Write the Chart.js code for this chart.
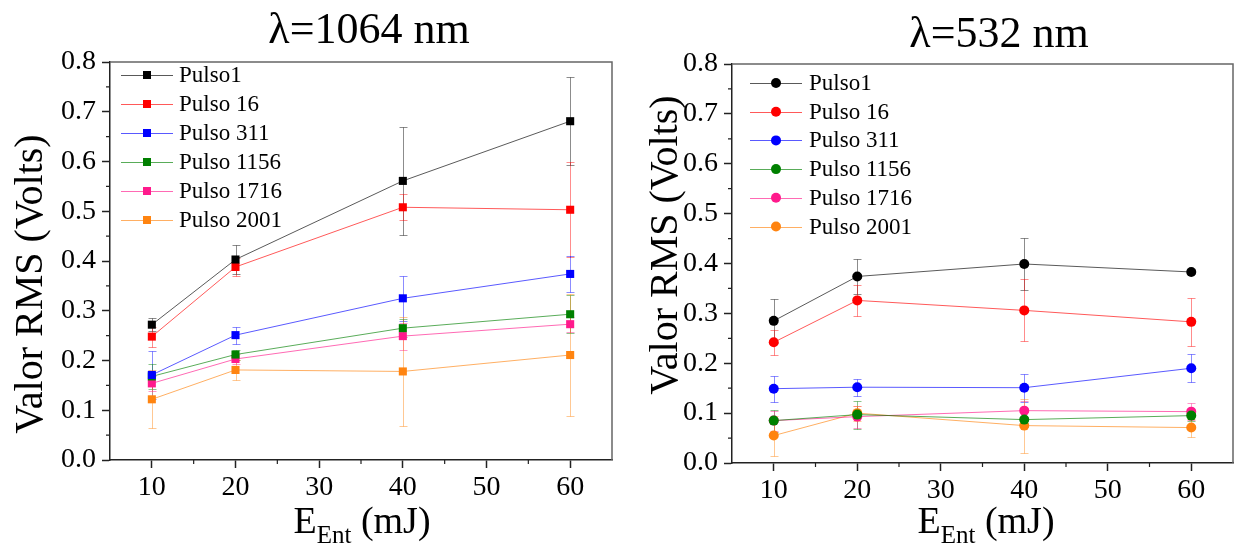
<!DOCTYPE html>
<html>
<head>
<meta charset="utf-8">
<script src="https://cdn.jsdelivr.net/npm/chart.js@4.4.1/dist/chart.umd.min.js"></script>
<style>
  html, body { margin: 0; padding: 0; background: #fff; }
  #wrap { position: relative; width: 1238px; height: 548px; }
  canvas { position: absolute; top: 0; }
  #c1064 { left: 0; }
  #c532 { left: 620px; }
</style>
</head>
<body>
<div id="wrap">
  <canvas id="c1064" width="620" height="548"></canvas>
  <canvas id="c532" width="618" height="548"></canvas>
</div>
<script>
// ---------- data ----------
const energies = [10, 20, 40, 60];
const seriesNames = ["Pulso1", "Pulso 16", "Pulso 311", "Pulso 1156", "Pulso 1716", "Pulso 2001"];

// lambda = 1064 nm
const p1_1064    = [0.272, 0.403, 0.561, 0.681];
const p16_1064   = [0.248, 0.388, 0.508, 0.503];
const p311_1064  = [0.171, 0.251, 0.325, 0.374];
const p1156_1064 = [0.168, 0.212, 0.265, 0.293];
const p1716_1064 = [0.154, 0.203, 0.249, 0.273];
const p2001_1064 = [0.122, 0.181, 0.178, 0.211];

const e1_1064    = [0.013, 0.030, 0.108, 0.088];
const e16_1064   = [0.020, 0.018, 0.026, 0.095];
const e311_1064  = [0.048, 0.017, 0.045, 0.036];
const e1156_1064 = [0.025, 0.010, 0.018, 0.038];
const e1716_1064 = [0.015, 0.010, 0.027, 0.015];
const e2001_1064 = [0.058, 0.020, 0.110, 0.123];

// lambda = 532 nm
const p1_532    = [0.285, 0.374, 0.399, 0.383];
const p16_532   = [0.242, 0.326, 0.306, 0.283];
const p311_532  = [0.149, 0.152, 0.151, 0.190];
const p1156_532 = [0.085, 0.097, 0.087, 0.095];
const p1716_532 = [0.085, 0.093, 0.105, 0.103];
const p2001_532 = [0.055, 0.100, 0.075, 0.071];

const e1_532    = [0.044, 0.035, 0.052, 0.005];
const e16_532   = [0.025, 0.031, 0.062, 0.048];
const e311_532  = [0.026, 0.017, 0.028, 0.028];
const e1156_532 = [0.022, 0.028, 0.015, 0.010];
const e1716_532 = [0.020, 0.022, 0.020, 0.017];
const e2001_532 = [0.040, 0.015, 0.054, 0.018];

const xTicks = [10, 20, 30, 40, 50, 60];
const xMinorTicks = [15, 25, 35, 45, 55];
const yTicks = [0.0, 0.1, 0.2, 0.3, 0.4, 0.5, 0.6, 0.7, 0.8];
const yMinorTicks = [0.05, 0.15, 0.25, 0.35, 0.45, 0.55, 0.65, 0.75];

const yTitle = "Valor RMS (Volts)";
const colors = ["#000000", "#ff0000", "#0000ff", "#008000", "#ff1a8c", "#ff8410"];
const serif = '"Liberation Serif", "Times New Roman", serif';

function fade(hex, a) {
  const n = parseInt(hex.slice(1), 16);
  return `rgba(${n >> 16}, ${(n >> 8) & 255}, ${n & 255}, ${a})`;
}

// ---------- plugins ----------
const errorBars = {
  id: "errorBars",
  beforeDatasetsDraw(chart) {
    const { ctx, scales: { x, y } } = chart;
    chart.data.datasets.forEach(ds => {
      ctx.save();
      ctx.strokeStyle = ds.errorColor;
      ctx.lineWidth = 1;
      ds.data.forEach((p, j) => {
        const e = ds.errors[j];
        const px = Math.round(x.getPixelForValue(p.x)) + 0.5;
        const top = Math.round(y.getPixelForValue(p.y + e)) + 0.5;
        const bot = Math.round(y.getPixelForValue(p.y - e)) + 0.5;
        ctx.beginPath();
        ctx.moveTo(px, top); ctx.lineTo(px, bot);
        ctx.moveTo(px - 4, top); ctx.lineTo(px + 4, top);
        ctx.moveTo(px - 4, bot); ctx.lineTo(px + 4, bot);
        ctx.stroke();
      });
      ctx.restore();
    });
  }
};

const frame = {
  id: "frame",
  afterDraw(chart) {
    const { ctx, chartArea: a, scales: { x, y } } = chart;
    ctx.save();
    ctx.strokeStyle = "#666";
    ctx.lineWidth = 1.5;
    ctx.beginPath();
    ctx.moveTo(a.left, a.top); ctx.lineTo(a.right, a.top); ctx.lineTo(a.right, a.bottom);
    ctx.stroke();
    // minor ticks
    ctx.strokeStyle = "#222";
    ctx.lineWidth = 1.2;
    ctx.beginPath();
    xMinorTicks.forEach(v => {
      const px = x.getPixelForValue(v);
      ctx.moveTo(px, a.bottom); ctx.lineTo(px, a.bottom + 4);
    });
    yMinorTicks.forEach(v => {
      const py = y.getPixelForValue(v);
      ctx.moveTo(a.left, py); ctx.lineTo(a.left - 4, py);
    });
    ctx.stroke();
    ctx.restore();
  }
};

const inLegend = {
  id: "inLegend",
  afterDatasetsDraw(chart, args, o) {
    const { ctx, chartArea: a } = chart;
    ctx.save();
    ctx.font = `23px ${serif}`;
    ctx.textBaseline = "middle";
    ctx.textAlign = "left";
    chart.data.datasets.forEach((ds, i) => {
      const yy = a.top + o.dy + i * o.rowH;
      ctx.strokeStyle = ds.borderColor;
      ctx.lineWidth = 1;
      ctx.beginPath();
      ctx.moveTo(a.left + o.lineX0, Math.round(yy) + 0.5);
      ctx.lineTo(a.left + o.lineX1, Math.round(yy) + 0.5);
      ctx.stroke();
      ctx.fillStyle = ds.pointBackgroundColor;
      const mx = a.left + o.markX;
      if (ds.pointStyle === "rect") {
        ctx.fillRect(mx - 4, yy - 4, 8, 8);
      } else {
        ctx.beginPath();
        ctx.arc(mx, yy, 5, 0, Math.PI * 2);
        ctx.fill();
      }
      ctx.fillStyle = "#000";
      ctx.fillText(ds.label, a.left + o.textX, yy + 1);
    });
    ctx.restore();
  }
};

const panelText = {
  id: "panelText",
  afterDraw(chart, args, o) {
    const { ctx } = chart;
    ctx.save();
    ctx.fillStyle = "#000";
    ctx.textAlign = "center";
    ctx.textBaseline = "alphabetic";
    ctx.font = `44px ${serif}`;
    ctx.fillText(o.title, o.titleX, o.titleY);

    ctx.save();
    ctx.translate(o.yTitleX, o.yTitleY);
    ctx.rotate(-Math.PI / 2);
    ctx.textBaseline = "middle";
    ctx.font = `40px ${serif}`;
    ctx.fillText(yTitle, 0, 0);
    ctx.restore();

    const big = `38px ${serif}`, small = `25px ${serif}`;
    ctx.font = big;
    const wE = ctx.measureText("E").width, wR = ctx.measureText(" (mJ)").width;
    ctx.font = small;
    const wS = ctx.measureText("Ent").width;
    let x = o.xTitleX - (wE + wS + wR) / 2;
    ctx.textAlign = "left";
    ctx.font = big; ctx.fillText("E", x, o.xTitleY); x += wE;
    ctx.font = small; ctx.fillText("Ent", x, o.xTitleY + 10); x += wS;
    ctx.font = big; ctx.fillText(" (mJ)", x, o.xTitleY);
    ctx.restore();
  }
};

// ---------- panels ----------
function makePanel(id, values, errors, marker, area, text, legend) {
  const canvas = document.getElementById(id);
  const H = canvas.height, W = canvas.width;
  const tickFont = { family: serif, size: 28 };

  const datasets = values.map((vals, i) => ({
    label: seriesNames[i],
    data: energies.map((e, j) => ({ x: e, y: vals[j] })),
    errors: errors[i],
    errorColor: fade(colors[i], 0.45),
    borderColor: fade(colors[i], 0.65),
    borderWidth: 1,
    pointStyle: marker,
    pointRadius: marker === "rect" ? 5.7 : 5,
    pointBackgroundColor: colors[i],
    pointBorderColor: colors[i],
    pointBorderWidth: 0,
    tension: 0
  }));

  return new Chart(canvas, {
    type: "line",
    data: { datasets },
    plugins: [errorBars, frame, inLegend, panelText],
    options: {
      responsive: false,
      animation: false,
      layout: { padding: { top: area.top, right: W - area.right, left: 0, bottom: 0 } },
      plugins: {
        legend: { display: false },
        tooltip: { enabled: false },
        inLegend: legend,
        panelText: text
      },
      scales: {
        x: {
          type: "linear", min: 5, max: 65,
          afterBuildTicks: s => { s.ticks = xTicks.map(v => ({ value: v })); },
          afterFit: s => { s.height = H - area.bottom; },
          ticks: { font: tickFont, color: "#000", padding: 3, maxRotation: 0, autoSkip: false },
          grid: { drawOnChartArea: false, tickLength: 8, tickColor: "#222", tickWidth: 1.5 },
          border: { color: "#222", width: 1.5 }
        },
        y: {
          min: 0, max: 0.8,
          afterBuildTicks: s => { s.ticks = yTicks.map(v => ({ value: v })); },
          afterFit: s => { s.width = area.left; },
          ticks: { font: tickFont, color: "#000", padding: 6, autoSkip: false,
                   callback: v => v.toFixed(1) },
          grid: { drawOnChartArea: false, tickLength: 8, tickColor: "#222", tickWidth: 1.5 },
          border: { color: "#222", width: 1.5 }
        }
      }
    }
  });
}

makePanel("c1064",
  [p1_1064, p16_1064, p311_1064, p1156_1064, p1716_1064, p2001_1064],
  [e1_1064, e16_1064, e311_1064, e1156_1064, e1716_1064, e2001_1064],
  "rect",
  { left: 110, right: 612, top: 62, bottom: 460 },
  { title: "λ=1064 nm", titleX: 369, titleY: 43, yTitleX: 31, yTitleY: 284, xTitleX: 362, xTitleY: 533 },
  { dy: 13, rowH: 29, lineX0: 11, lineX1: 63, markX: 37, textX: 69 });

makePanel("c532",
  [p1_532, p16_532, p311_532, p1156_532, p1716_532, p2001_532],
  [e1_532, e16_532, e311_532, e1156_532, e1716_532, e2001_532],
  "circle",
  { left: 112, right: 614, top: 64, bottom: 463 },
  { title: "λ=532 nm", titleX: 379, titleY: 47, yTitleX: 46, yTitleY: 245, xTitleX: 366, xTitleY: 533 },
  { dy: 19, rowH: 28.7, lineX0: 18, lineX1: 70, markX: 44, textX: 77 });
</script>
</body>
</html>
